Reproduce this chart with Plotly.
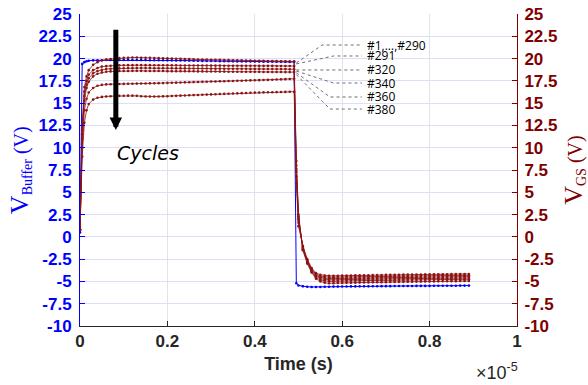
import plotly.graph_objects as go

# ---------------- data (time in units of 1e-5 s) ----------------
time_us = [0, 0.005, 0.01, 0.015, 0.02, 0.03, 0.04, 0.05, 0.06, 0.07, 0.08, 0.09,
           0.10, 0.11, 0.12, 0.13, 0.14, 0.15, 0.16, 0.17, 0.18, 0.19,
           0.20, 0.21, 0.22, 0.23, 0.24, 0.25, 0.26, 0.27, 0.28, 0.29,
           0.30, 0.31, 0.32, 0.33, 0.34, 0.35, 0.36, 0.37, 0.38, 0.39,
           0.40, 0.41, 0.42, 0.43, 0.44, 0.45, 0.46, 0.47, 0.48, 0.49,
           0.495,
           0.50, 0.51, 0.52, 0.53, 0.54, 0.55, 0.56, 0.57, 0.58, 0.59,
           0.60, 0.61, 0.62, 0.63, 0.64, 0.65, 0.66, 0.67, 0.68, 0.69,
           0.70, 0.71, 0.72, 0.73, 0.74, 0.75, 0.76, 0.77, 0.78, 0.79,
           0.80, 0.81, 0.82, 0.83, 0.84, 0.85, 0.86, 0.87, 0.88, 0.89]

v_buffer = [0.5, 19.4, 19.6, 19.7, 19.75, 19.8, 19.8, 19.82, 19.85, 19.85, 19.85, 19.85,
            19.85, 19.85, 19.84, 19.84, 19.83, 19.83, 19.82, 19.82, 19.81, 19.81,
            19.8, 19.8, 19.79, 19.79, 19.78, 19.77, 19.76, 19.75, 19.74, 19.74,
            19.73, 19.72, 19.71, 19.7, 19.7, 19.69, 19.68, 19.68, 19.67, 19.67,
            19.66, 19.66, 19.65, 19.65, 19.64, 19.64, 19.63, 19.63, 19.62, 19.62,
            -5.2,
            -5.45, -5.55, -5.6, -5.62, -5.62, -5.62, -5.6, -5.6, -5.58, -5.58,
            -5.57, -5.57, -5.56, -5.56, -5.55, -5.55, -5.55, -5.54, -5.54, -5.53,
            -5.53, -5.53, -5.52, -5.52, -5.52, -5.51, -5.51, -5.5, -5.5, -5.5,
            -5.5, -5.49, -5.49, -5.49, -5.48, -5.48, -5.48, -5.47, -5.47, -5.47]

vgs_c1_290 = [0.8, 12.5, 16.8, 18.0, 18.7, 19.3, 19.6, 19.8, 19.9, 19.95, 20.0, 20.05,
              20.1, 20.1, 20.12, 20.12, 20.1, 20.1, 20.08, 20.06, 20.05, 20.03,
              20.02, 20.0, 19.98, 19.97, 19.95, 19.94, 19.92, 19.9, 19.9, 19.88,
              19.87, 19.86, 19.85, 19.84, 19.83, 19.82, 19.8, 19.8, 19.78, 19.77,
              19.76, 19.75, 19.74, 19.73, 19.72, 19.71, 19.7, 19.7, 19.69, 19.68,
              8.5,
              2.5, -1.5, -3.0, -4.0, -4.7, -5.0, -5.15, -5.2, -5.2, -5.18,
              -5.17, -5.16, -5.15, -5.14, -5.13, -5.12, -5.11, -5.1, -5.1, -5.09,
              -5.08, -5.07, -5.06, -5.05, -5.05, -5.04, -5.03, -5.02, -5.02, -5.01,
              -5.0, -5.0, -4.99, -4.98, -4.98, -4.97, -4.97, -4.96, -4.96, -4.95]

vgs_c291 = [0.8, 12.0, 16.3, 17.5, 18.2, 18.7, 18.95, 19.1, 19.15, 19.2, 19.22, 19.24,
            19.25, 19.26, 19.26, 19.27, 19.27, 19.26, 19.26, 19.25, 19.25, 19.25,
            19.24, 19.24, 19.24, 19.23, 19.23, 19.23, 19.22, 19.22, 19.22, 19.22,
            19.21, 19.21, 19.21, 19.2, 19.2, 19.2, 19.2, 19.19, 19.19, 19.19,
            19.19, 19.18, 19.18, 19.18, 19.18, 19.17, 19.17, 19.17, 19.17, 19.16,
            8.0,
            2.3, -1.4, -2.9, -3.9, -4.55, -4.85, -4.95, -4.98, -4.98, -4.96,
            -4.95, -4.94, -4.93, -4.92, -4.91, -4.9, -4.9, -4.89, -4.88, -4.88,
            -4.87, -4.86, -4.86, -4.85, -4.84, -4.84, -4.83, -4.82, -4.82, -4.81,
            -4.8, -4.8, -4.79, -4.79, -4.78, -4.78, -4.77, -4.77, -4.76, -4.76]

vgs_c320 = [0.8, 11.5, 15.8, 17.1, 17.8, 18.35, 18.6, 18.75, 18.82, 18.86, 18.88, 18.9,
            18.92, 18.93, 18.93, 18.94, 18.94, 18.93, 18.93, 18.92, 18.92, 18.92,
            18.91, 18.91, 18.9, 18.9, 18.9, 18.89, 18.89, 18.88, 18.88, 18.88,
            18.87, 18.87, 18.87, 18.86, 18.86, 18.86, 18.85, 18.85, 18.85, 18.84,
            18.84, 18.84, 18.83, 18.83, 18.83, 18.82, 18.82, 18.82, 18.81, 18.81,
            7.6,
            2.1, -1.3, -2.8, -3.8, -4.4, -4.7, -4.8, -4.82, -4.82, -4.8,
            -4.79, -4.78, -4.77, -4.76, -4.76, -4.75, -4.74, -4.74, -4.73, -4.72,
            -4.72, -4.71, -4.7, -4.7, -4.69, -4.69, -4.68, -4.67, -4.67, -4.66,
            -4.66, -4.65, -4.65, -4.64, -4.64, -4.63, -4.63, -4.62, -4.62, -4.61]

vgs_c340 = [0.8, 11.0, 15.3, 16.7, 17.4, 18.0, 18.3, 18.45, 18.52, 18.56, 18.58, 18.6,
            18.6, 18.61, 18.62, 18.62, 18.62, 18.61, 18.61, 18.6, 18.6, 18.6,
            18.59, 18.59, 18.58, 18.58, 18.58, 18.57, 18.57, 18.56, 18.56, 18.55,
            18.55, 18.55, 18.54, 18.54, 18.53, 18.53, 18.53, 18.52, 18.52, 18.52,
            18.51, 18.51, 18.5, 18.5, 18.5, 18.49, 18.49, 18.48, 18.48, 18.48,
            7.3,
            1.9, -1.2, -2.7, -3.7, -4.3, -4.55, -4.65, -4.67, -4.67, -4.66,
            -4.65, -4.64, -4.63, -4.62, -4.61, -4.6, -4.6, -4.59, -4.58, -4.58,
            -4.57, -4.56, -4.56, -4.55, -4.54, -4.54, -4.53, -4.52, -4.52, -4.51,
            -4.51, -4.5, -4.5, -4.49, -4.49, -4.48, -4.48, -4.47, -4.47, -4.46]

vgs_c360 = [0.8, 10.0, 14.2, 15.5, 16.2, 16.7, 16.95, 17.05, 17.1, 17.12, 17.14, 17.15,
            17.16, 17.17, 17.18, 17.19, 17.2, 17.21, 17.22, 17.23, 17.24, 17.25,
            17.27, 17.28, 17.3, 17.31, 17.33, 17.34, 17.36, 17.37, 17.39, 17.4,
            17.42, 17.43, 17.45, 17.46, 17.48, 17.49, 17.51, 17.52, 17.54, 17.55,
            17.57, 17.58, 17.6, 17.61, 17.63, 17.65, 17.67, 17.69, 17.71, 17.73,
            6.8,
            1.6, -1.1, -2.6, -3.6, -4.2, -4.4, -4.5, -4.52, -4.52, -4.51,
            -4.5, -4.49, -4.48, -4.47, -4.46, -4.45, -4.45, -4.44, -4.43, -4.43,
            -4.42, -4.41, -4.41, -4.4, -4.39, -4.39, -4.38, -4.37, -4.37, -4.36,
            -4.36, -4.35, -4.35, -4.34, -4.34, -4.33, -4.33, -4.32, -4.32, -4.31]

vgs_c380 = [0.8, 9.0, 12.8, 14.2, 14.9, 15.4, 15.6, 15.7, 15.75, 15.78, 15.8, 15.82,
            15.83, 15.84, 15.84, 15.82, 15.78, 15.75, 15.74, 15.74, 15.75, 15.76,
            15.78, 15.8, 15.82, 15.84, 15.86, 15.88, 15.9, 15.92, 15.94, 15.96,
            15.98, 16.0, 16.02, 16.04, 16.06, 16.08, 16.1, 16.12, 16.14, 16.16,
            16.18, 16.2, 16.21, 16.22, 16.23, 16.24, 16.25, 16.26, 16.27, 16.28,
            6.0,
            1.2, -1.0, -2.5, -3.5, -4.05, -4.25, -4.35, -4.37, -4.37, -4.36,
            -4.35, -4.34, -4.33, -4.32, -4.31, -4.3, -4.3, -4.29, -4.28, -4.28,
            -4.27, -4.26, -4.26, -4.25, -4.24, -4.24, -4.23, -4.22, -4.22, -4.21,
            -4.21, -4.2, -4.2, -4.19, -4.19, -4.18, -4.18, -4.17, -4.17, -4.16]

vgs_series = [vgs_c1_290, vgs_c291, vgs_c320, vgs_c340, vgs_c360, vgs_c380]

cycle_labels = ["#1,...,#290", "#291", "#320", "#340", "#360", "#380"]
label_y = [21.52, 20.29, 18.72, 17.26, 15.69, 14.34]
leader_start_y = [19.5, 19.4, 18.72, 18.6, 18.4, 18.2]
leader_elbow_x = [0.554, 0.58, 0.58, 0.58, 0.572, 0.572]
leader_start_x = 0.495
leader_end_x = 0.645
label_x = 0.652

x_ticks = [0, 0.2, 0.4, 0.6, 0.8, 1]
x_ticktext = ["0", "0.2", "0.4", "0.6", "0.8", "1"]
y_ticks = [-10, -7.5, -5, -2.5, 0, 2.5, 5, 7.5, 10, 12.5, 15, 17.5, 20, 22.5, 25]
y_ticktext = ["-10", "-7.5", "-5", "-2.5", "0", "2.5", "5", "7.5", "10", "12.5",
              "15", "17.5", "20", "22.5", "25"]

BLUE = "rgb(0,0,255)"
DRED = "rgb(128,0,0)"
RED_LINE = "rgb(140,20,20)"
DARK = "#262626"

fig = go.Figure()

fig.add_trace(go.Scatter(x=time_us, y=v_buffer, mode="lines+markers",
                         line=dict(color=BLUE, width=1),
                         marker=dict(color=BLUE, size=2.6), yaxis="y",
                         hoverinfo="skip"))

for s in vgs_series:
    fig.add_trace(go.Scatter(x=time_us, y=s, mode="lines+markers",
                             line=dict(color=RED_LINE, width=0.8),
                             marker=dict(color=RED_LINE, size=2.6), yaxis="y2",
                             hoverinfo="skip"))

# dashed leader lines to the cycle labels
for sy, ex, ly in zip(leader_start_y, leader_elbow_x, label_y):
    fig.add_trace(go.Scatter(x=[leader_start_x, ex, leader_end_x], y=[sy, ly, ly],
                             mode="lines", yaxis="y2",
                             line=dict(color="rgb(110,110,110)", width=1, dash="dot"),
                             hoverinfo="skip"))

annotations = []
for txt, ly in zip(cycle_labels, label_y):
    annotations.append(dict(x=label_x, y=ly, xref="x", yref="y2", text=txt,
                            showarrow=False, xanchor="left", yanchor="middle",
                            font=dict(family="Open Sans", size=12, color="black")))

# big black arrow + "Cycles"
annotations.append(dict(x=0.082, y=12.0, ax=0.082, ay=23.4, xref="x", yref="y",
                        axref="x", ayref="y", text="", showarrow=True,
                        arrowhead=2, arrowsize=0.5, arrowwidth=5,
                        arrowcolor="black", standoff=0, startstandoff=0))
annotations.append(dict(x=0.156, y=9.4, xref="x", yref="y", text="<i>Cycles</i>",
                        showarrow=False, xanchor="center", yanchor="middle",
                        font=dict(family="DejaVu Sans", size=19, color="black")))

# axis titles
annotations.append(dict(x=-0.137, y=0.5, xref="paper", yref="paper",
                        text='<span style="font-size:26px">V</span><sub>Buffer</sub> (V)',
                        textangle=-90, showarrow=False, xanchor="center", yanchor="middle",
                        font=dict(family="Liberation Serif", size=20, color=BLUE)))
annotations.append(dict(x=1.130, y=0.5, xref="paper", yref="paper",
                        text='<span style="font-size:26px">V</span><sub>GS</sub> (V)',
                        textangle=-90, showarrow=False, xanchor="center", yanchor="middle",
                        font=dict(family="Liberation Serif", size=20, color=DRED)))
annotations.append(dict(x=1.007, y=-0.147, xref="paper", yref="paper",
                        text="×10<sup>-5</sup>", showarrow=False,
                        xanchor="right", yanchor="middle",
                        font=dict(family="Liberation Sans", size=18, color=DARK)))

fig.update_layout(
    width=588, height=385,
    margin=dict(l=80, r=71, t=14, b=59, autoexpand=False),
    plot_bgcolor="white", paper_bgcolor="white",
    showlegend=False,
    annotations=annotations,
    xaxis=dict(range=[0, 1], tickvals=x_ticks, ticktext=x_ticktext,
               ticks="inside", ticklen=5, tickcolor=DARK, automargin=False,
               showline=True, linecolor=DARK, linewidth=1,
               showgrid=True, gridcolor="rgb(226,226,236)", gridwidth=1,
               zeroline=False,
               tickfont=dict(family="Liberation Sans", size=17, color=DARK, weight="bold"),
               title=dict(text="Time (s)", standoff=6,
                          font=dict(family="Liberation Sans", size=18, color=DARK,
                                    weight="bold"))),
    yaxis=dict(range=[-10, 25], tickvals=y_ticks, ticktext=y_ticktext,
               ticks="inside", ticklen=5, tickcolor=BLUE, automargin=False,
               showline=True, linecolor=BLUE, linewidth=1,
               showgrid=True, gridcolor="rgb(222,222,246)", gridwidth=1,
               zeroline=False, ticklabelstandoff=4,
               tickfont=dict(family="Liberation Sans", size=17, color=BLUE, weight="bold")),
    yaxis2=dict(range=[-10, 25], tickvals=y_ticks, ticktext=y_ticktext,
                overlaying="y", side="right", automargin=False,
                ticks="inside", ticklen=5, tickcolor=DRED,
                showline=True, linecolor=DRED, linewidth=1,
                showgrid=False, zeroline=False, ticklabelstandoff=3,
                tickfont=dict(family="Liberation Sans", size=17, color=DRED, weight="bold")),
)

fig.write_html("out.html")
